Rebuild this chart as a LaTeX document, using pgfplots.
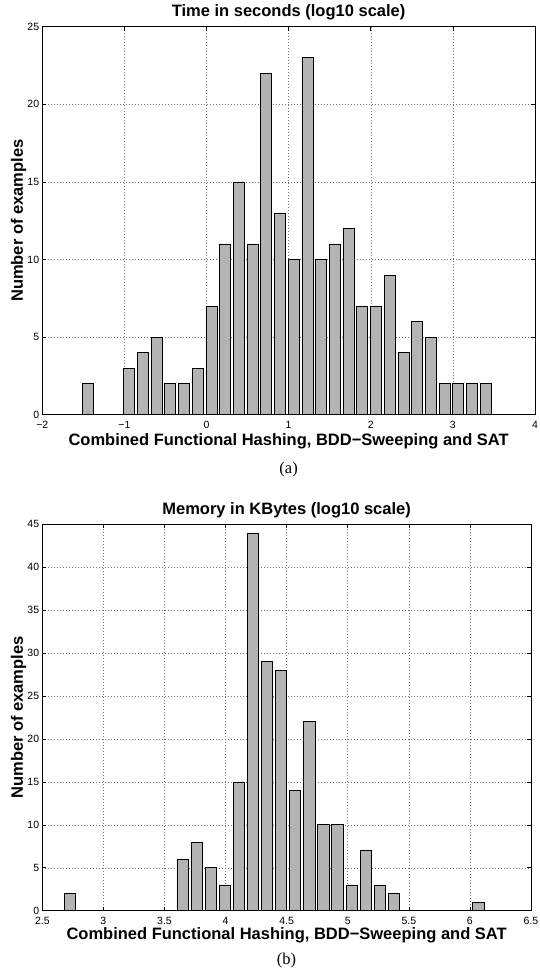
\documentclass[border=0pt]{standalone}
\usepackage{fontspec}
\setmainfont{Liberation Sans}
\newfontfamily\seriffont{Liberation Serif}
\usepackage{pgfplots}
\pgfplotsset{compat=1.18}
\definecolor{bargray}{RGB}{179,179,179}

\pgfplotstableread{
x y
-1.444 2
-1.277 0
-1.110 0
-0.943 3
-0.776 4
-0.609 5
-0.442 2
-0.275 2
-0.108 3
0.059 7
0.226 11
0.393 15
0.560 11
0.727 22
0.894 13
1.061 10
1.228 23
1.395 10
1.562 11
1.729 12
1.896 7
2.063 7
2.230 9
2.397 4
2.564 6
2.731 5
2.898 2
3.065 2
3.232 2
3.399 2
}\timedata

\pgfplotstableread{
x y
2.725 2
2.840 0
2.956 0
3.071 0
3.186 0
3.302 0
3.417 0
3.532 0
3.648 6
3.763 8
3.878 5
3.994 3
4.109 15
4.224 44
4.340 29
4.455 28
4.570 14
4.686 22
4.801 10
4.916 10
5.032 3
5.147 7
5.262 3
5.378 2
5.493 0
5.608 0
5.724 0
5.839 0
5.954 0
6.070 1
}\memdata

\pgfplotsset{histax/.style={
  scale only axis,
  anchor=south west,
  axis line style={line width=0.8pt},
  tick align=inside,
  major tick length=4pt,
  tick style={line width=0.6pt, black},
  grid=major,
  major grid style={black!55, line width=0.5pt, dash pattern=on 0.8pt off 2.2pt},
  ticklabel style={font=\fontsize{10.5}{12}\selectfont},
  /pgf/number format/assume math mode=true,
  xticklabel style={anchor=north, inner sep=0pt, yshift=-6.5pt},
  yticklabel style={anchor=east, inner sep=0pt, xshift=-3pt},
  ymin=0,
}}

\begin{document}
\begin{tikzpicture}[x=1pt,y=1pt]
\useasboundingbox (0,0) rectangle (539,974);

\begin{axis}[histax,
  at={(42.3pt,559.3pt)}, width=492.7pt, height=388pt,
  xmin=-2, xmax=4, ymax=25,
  xtick={-2,-1,0,1,2,3,4},
  xticklabels={−2,−1,0,1,2,3,4},
  ytick={0,5,10,15,20,25},
]
\addplot[ybar, bar shift=0, bar width=0.1336, fill=bargray, draw=black, line width=0.7pt] table[x=x,y=y] {\timedata};
\end{axis}

\begin{axis}[histax,
  at={(42.3pt,63.3pt)}, width=488.7pt, height=386.4pt,
  xmin=2.5, xmax=6.5, ymax=45,
  xtick={2.5,3,3.5,4,4.5,5,5.5,6,6.5},
  xticklabels={2.5,3,3.5,4,4.5,5,5.5,6,6.5},
  ytick={0,5,10,15,20,25,30,35,40,45},
]
\addplot[ybar, bar shift=0, bar width=0.0923, fill=bargray, draw=black, line width=0.7pt] table[x=x,y=y] {\memdata};
\end{axis}

% top texts
\node[anchor=base, font=\fontsize{16.5}{19}\selectfont\bfseries] at (288.6,957) {Time in seconds (log10 scale)};
\node[anchor=base, font=\fontsize{16.5}{19}\selectfont\bfseries] at (288.6,528) {Combined Functional Hashing, BDD−Sweeping and SAT};
\node[anchor=base, font=\fontsize{16.5}{19}\selectfont\seriffont] at (288.6,500) {(a)};
\node[anchor=base, rotate=90, font=\fontsize{16.5}{19}\selectfont\bfseries] at (23,753.3) {Number of examples};

% bottom texts
\node[anchor=base, font=\fontsize{16.5}{19}\selectfont\bfseries] at (286.6,459) {Memory in KBytes (log10 scale)};
\node[anchor=base, font=\fontsize{16.5}{19}\selectfont\bfseries] at (286.6,34) {Combined Functional Hashing, BDD−Sweeping and SAT};
\node[anchor=base, font=\fontsize{16.5}{19}\selectfont\seriffont] at (286.6,9.5) {(b)};
\node[anchor=base, rotate=90, font=\fontsize{16.5}{19}\selectfont\bfseries] at (23,256.5) {Number of examples};
\end{tikzpicture}
\end{document}
